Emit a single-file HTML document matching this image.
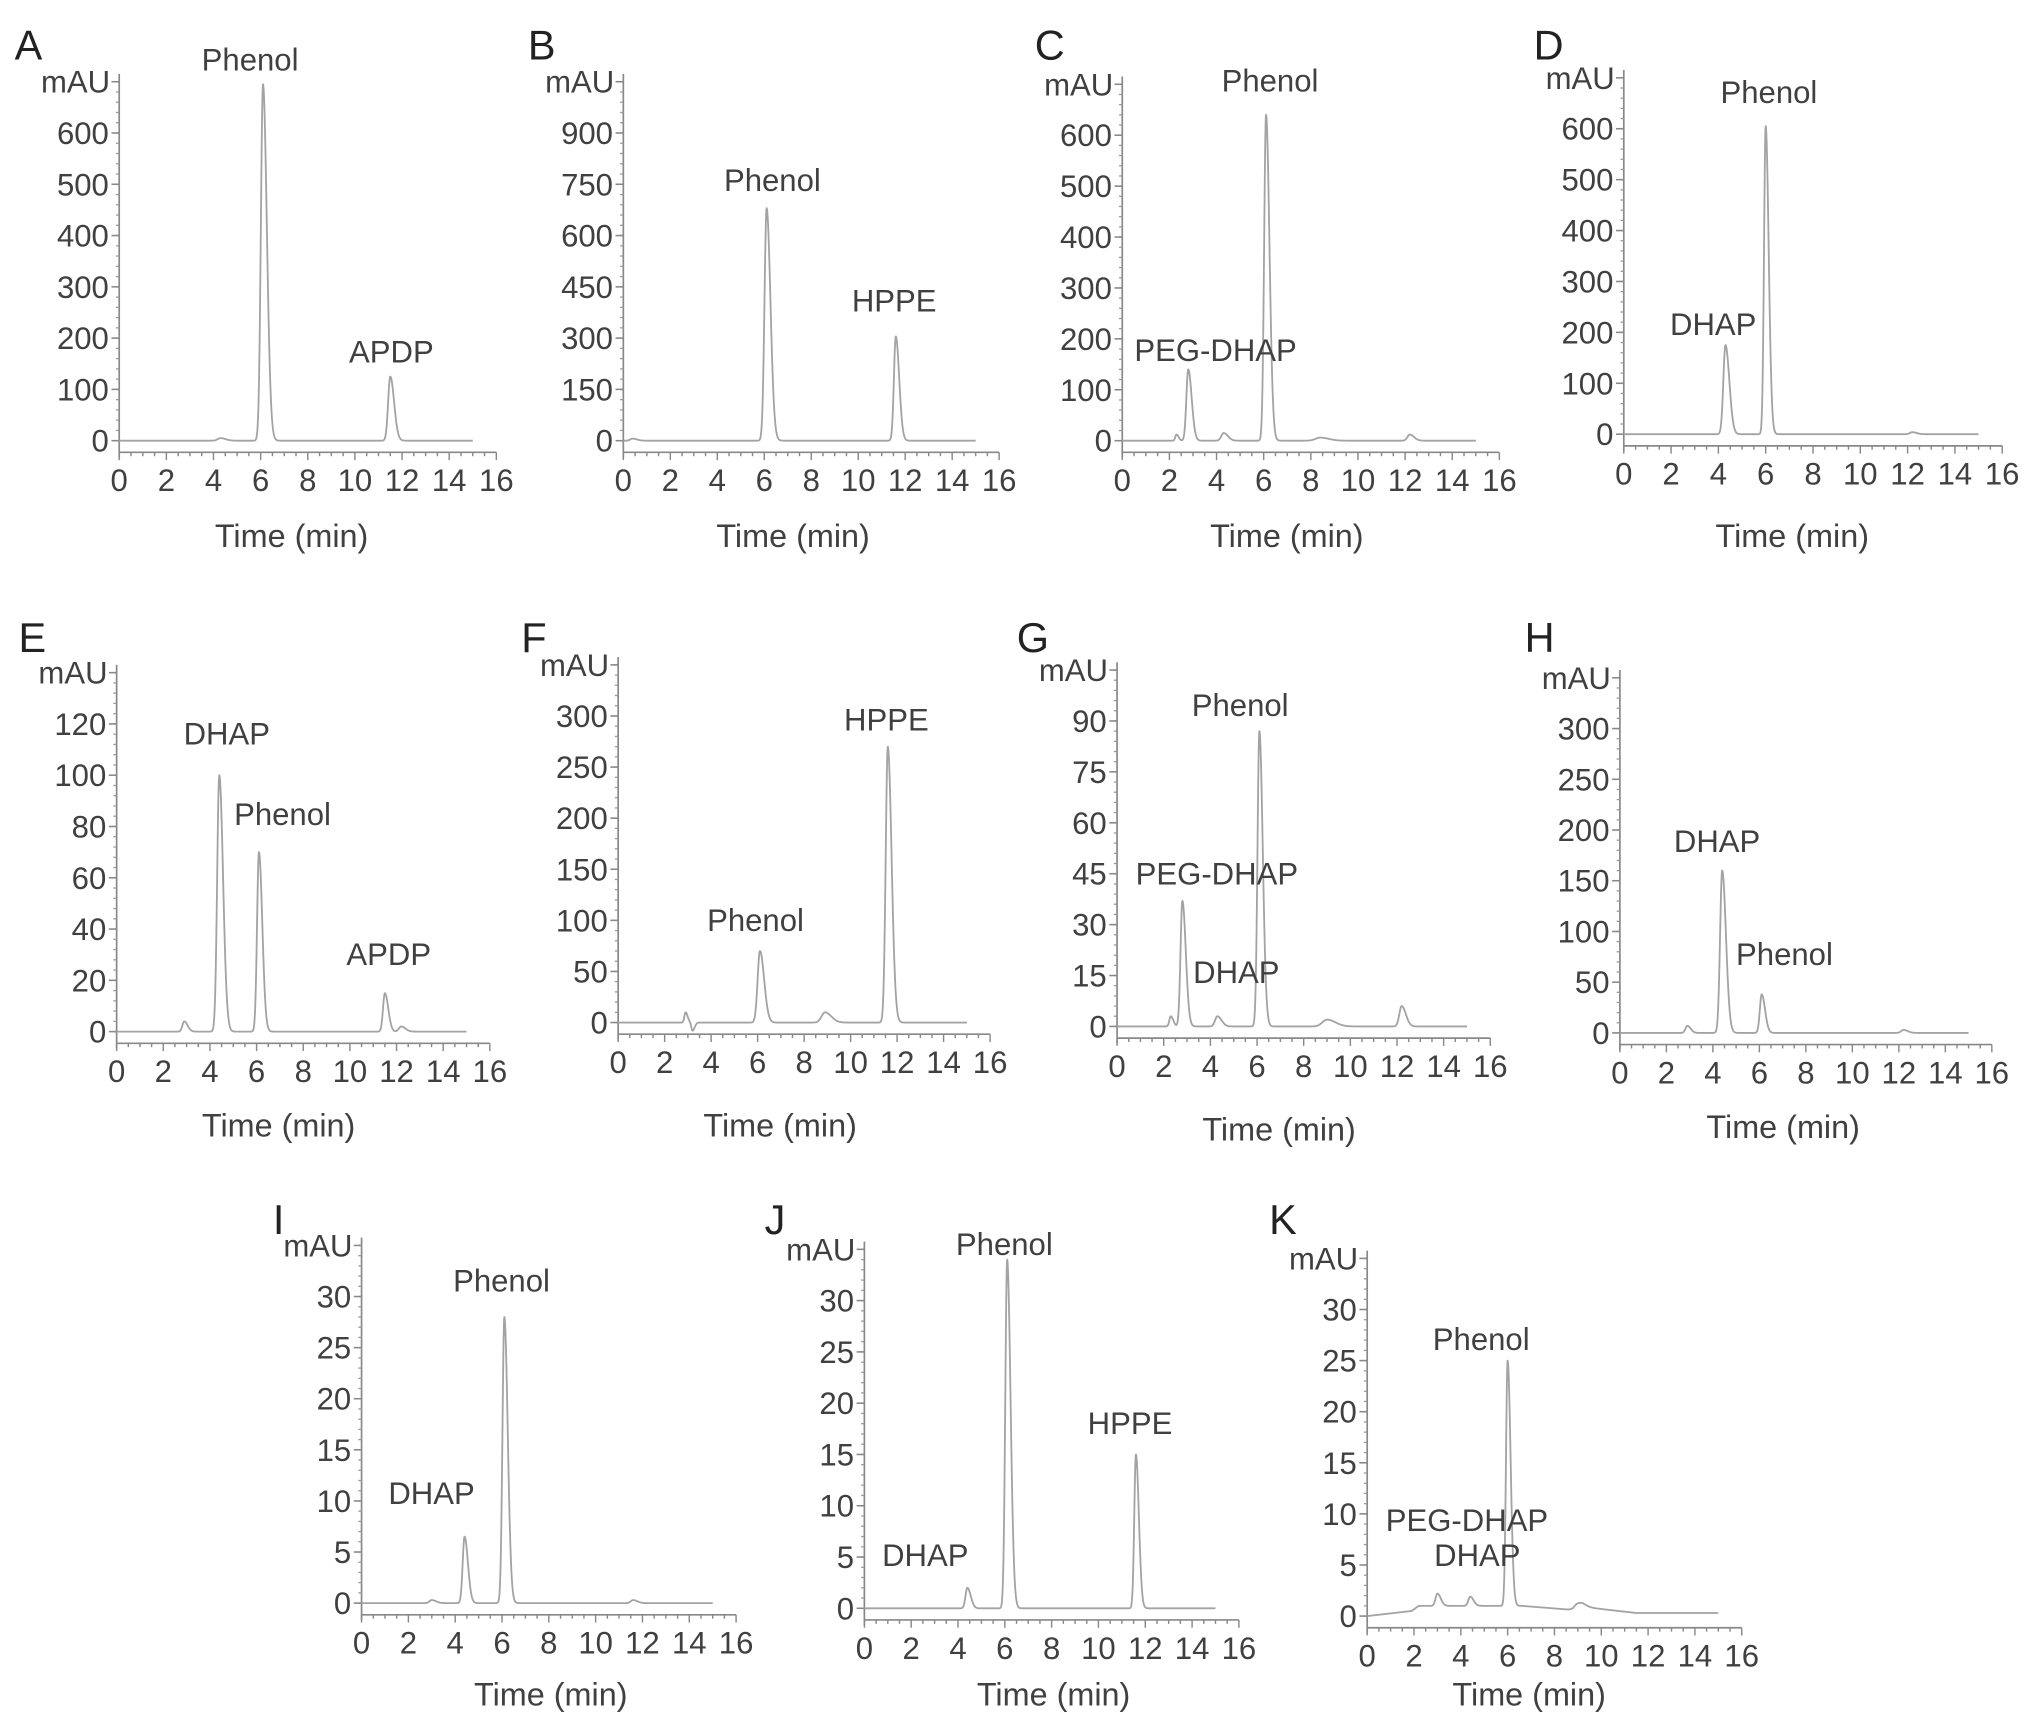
<!DOCTYPE html>
<html><head><meta charset="utf-8"><style>
html,body{margin:0;padding:0;background:#fff;}
svg{display:block;}
text{font-family:"Liberation Sans",sans-serif;fill:#404040;}
</style></head><body>
<svg id="fig" width="2032" height="1725" viewBox="0 0 1568 1331" xmlns="http://www.w3.org/2000/svg"></svg>
<script>
// ---- data: peaks [time(min), height(mAU), width(min)] per panel ----
const peaksA = [[4.3,5,0.12],[6.1,695,0.09],[11.5,125,0.09]];
const peaksB = [[0.4,6,0.1],[6.1,680,0.09],[11.6,305,0.08]];
const peaksC = [[2.3,12,0.05],[2.8,140,0.08],[4.3,15,0.1],[6.1,640,0.08],[8.4,6,0.2],[12.2,12,0.1]];
const peaksD = [[4.3,175,0.09],[6.0,605,0.07],[12.2,4,0.1]];
const peaksE = [[2.9,4,0.08],[4.4,100,0.09],[6.1,70,0.08],[11.5,15,0.08],[12.2,2,0.1]];
const peaksF = [[2.9,10,0.05],[3.2,-8,0.05],[6.1,70,0.1],[8.9,10,0.15],[11.6,270,0.09]];
const peaksG = [[2.3,3,0.06],[2.8,37,0.08],[4.3,3,0.1],[6.1,87,0.08],[9.0,2,0.2],[12.2,6,0.1]];
const peaksH = [[2.9,7,0.08],[4.4,160,0.09],[6.1,38,0.08],[12.2,3,0.1]];
const peaksI = [[3.0,0.3,0.1],[4.4,6.5,0.08],[6.1,28,0.08],[11.6,0.3,0.1]];
const peaksJ = [[4.4,2,0.08],[6.1,34,0.08],[11.6,15,0.07]];
const peaksK = [[3.0,1.2,0.08],[4.4,0.9,0.08],[6.0,24,0.07],[9.0,0.5,0.15]];
// raised baseline for K: [time, level]
const baseK = [[0,0],[1.9,0.5],[2.2,1],[5.6,1],[6.6,1],[8.8,0.6],[9.2,0.9],[11.5,0.3],[15,0.3]];
// y tick labels per panel
const ticksA = [0,100,200,300,400,500,600];
const ticksB = [0,150,300,450,600,750,900];
const ticksC = [0,100,200,300,400,500,600];
const ticksD = [0,100,200,300,400,500,600];
const ticksE = [0,20,40,60,80,100,120];
const ticksF = [0,50,100,150,200,250,300];
const ticksG = [0,15,30,45,60,75,90];
const ticksH = [0,50,100,150,200,250,300];
const ticksI = [0,5,10,15,20,25,30];
const ticksJ = [0,5,10,15,20,25,30];
const ticksK = [0,5,10,15,20,25,30];
const xTicks = [0,2,4,6,8,10,12,14,16];
// peak annotations [text, x, y]
const labelsA = [["Phenol",193,46],["APDP",302,271]];
const labelsB = [["Phenol",596,139],["HPPE",690,232]];
const labelsC = [["Phenol",980,62],["PEG-DHAP",938,270]];
const labelsD = [["Phenol",1365,71],["DHAP",1322,250]];
const labelsE = [["DHAP",175,566],["Phenol",218,628],["APDP",300,736]];
const labelsF = [["Phenol",583,710],["HPPE",684,555]];
const labelsG = [["Phenol",957,544],["PEG-DHAP",939,674],["DHAP",954,750]];
const labelsH = [["DHAP",1325,649],["Phenol",1377,736]];
const labelsI = [["Phenol",387,988],["DHAP",333,1152]];
const labelsJ = [["Phenol",775,960],["HPPE",872,1098],["DHAP",714,1200]];
const labelsK = [["Phenol",1143,1033],["PEG-DHAP",1132,1173],["DHAP",1140,1200]];

const panels = [
 {id:"A",ax:92,y0:340,top:700,ytop:63,x16:383,peaks:peaksA,ticks:ticksA,labels:labelsA,L:[22,35],T:[225,413]},
 {id:"B",ax:481,y0:340,top:1050,ytop:63,x16:771,peaks:peaksB,ticks:ticksB,labels:labelsB,L:[418,35],T:[612,413]},
 {id:"C",ax:866,y0:340,top:700,ytop:65,x16:1157,peaks:peaksC,ticks:ticksC,labels:labelsC,L:[810,35],T:[993,413]},
 {id:"D",ax:1253,y0:335,top:700,ytop:60,x16:1545,peaks:peaksD,ticks:ticksD,labels:labelsD,L:[1195,35],T:[1383,413]},
 {id:"E",ax:90,y0:796,top:140,ytop:519,x16:378,peaks:peaksE,ticks:ticksE,labels:labelsE,L:[25,492],T:[215,868]},
 {id:"F",ax:477,y0:789,top:350,ytop:513,x16:764,peaks:peaksF,ticks:ticksF,labels:labelsF,L:[412,492],T:[602,868]},
 {id:"G",ax:862,y0:792,top:105,ytop:517,x16:1150,peaks:peaksG,ticks:ticksG,labels:labelsG,L:[797,492],T:[987,871]},
 {id:"H",ax:1250,y0:797,top:350,ytop:523,x16:1537,peaks:peaksH,ticks:ticksH,labels:labelsH,L:[1188,492],T:[1376,869]},
 {id:"I",ax:279,y0:1237,top:35,ytop:961,x16:568,peaks:peaksI,ticks:ticksI,labels:labelsI,L:[215,941],T:[425,1307]},
 {id:"J",ax:667,y0:1241,top:35,ytop:964,x16:956,peaks:peaksJ,ticks:ticksJ,labels:labelsJ,L:[598,941],T:[813,1307]},
 {id:"K",ax:1055,y0:1247,top:35,ytop:971,x16:1344,peaks:peaksK,ticks:ticksK,labels:labelsK,L:[990,941],T:[1180,1307],base:baseK}
];

const NS="http://www.w3.org/2000/svg";
const svg=document.getElementById('fig');
function mk(tag,attrs,parent){const e=document.createElementNS(NS,tag);for(const k in attrs)e.setAttribute(k,attrs[k]);parent.appendChild(e);return e;}
function baseAt(base,t){if(!base)return 0;for(let i=1;i<base.length;i++){if(t<=base[i][0]){const a=base[i-1],b=base[i];return a[1]+(b[1]-a[1])*(t-a[0])/(b[0]-a[0]);}}return base[base.length-1][1];}

panels.forEach(p=>{
  const g=mk('g',{},svg);
  
  
  const xs=t=>p.ax+(p.x16-p.ax)*t/16;
  const ys=v=>p.y0-(p.y0-p.ytop)*v/p.top;
  const axY=p.y0+9;
  const L=mk('text',{x:p.L[0],y:p.L[1]+11,'font-size':32,'text-anchor':'middle',style:'fill:#222'},g);
  L.textContent=p.id;
  
  
  const ya=mk('line',{x1:p.ax,y1:p.ytop-6,x2:p.ax,y2:axY+4,stroke:'#888','stroke-width':1.3},g);
  
  
  const step=p.ticks[1]-p.ticks[0];
  for(let v=0;v<=p.top+1e-9;v+=step/5){
    mk('line',{x1:p.ax-2.5,y1:ys(v),x2:p.ax,y2:ys(v),stroke:'#999','stroke-width':1},g);
  }
  p.ticks.forEach(v=>{
    mk('line',{x1:p.ax-6,y1:ys(v),x2:p.ax,y2:ys(v),stroke:'#888','stroke-width':1.2},g);
    const t=mk('text',{x:p.ax-8,y:ys(v)+8.5,'font-size':24,'text-anchor':'end'},g);
    t.textContent=v;
    
    
  });
  mk('line',{x1:p.ax-6,y1:p.ytop,x2:p.ax,y2:p.ytop,stroke:'#888','stroke-width':1.2},g);
  const mau=mk('text',{x:p.ax-7,y:p.ytop+8.5,'font-size':24,'text-anchor':'end'},g);
  mau.textContent='mAU';
  
  
  const xa=mk('line',{x1:p.ax,y1:axY,x2:p.x16,y2:axY,stroke:'#888','stroke-width':1.3},g);
  
  
  for(let t=0;t<=16;t+=0.5){
    const major=(t%2===0);
    mk('line',{x1:xs(t),y1:axY,x2:xs(t),y2:axY+(major?6:3),stroke:'#888','stroke-width':1.1},g);
  }
  xTicks.forEach(t=>{
    const e=mk('text',{x:xs(t),y:axY+30,'font-size':24,'text-anchor':'middle'},g);
    e.textContent=t;
    
    
  });
  const tt=mk('text',{x:p.T[0],y:p.T[1]+9,'font-size':25,'text-anchor':'middle'},g);
  tt.textContent='Time (min)';
  
  
  let d='';
  for(let t=0;t<=15.0001;t+=0.01){
    let v=baseAt(p.base,t);
    p.peaks.forEach(pk=>{
      const dt=t-pk[0];const s=dt<0?pk[2]:pk[2]*1.8;
      v+=pk[1]*Math.exp(-dt*dt/(2*s*s));
    });
    d+=(d?'L':'M')+xs(t).toFixed(2)+','+ys(v).toFixed(2);
  }
  const tr=mk('path',{d:d,fill:'none',stroke:'#a3a3a3','stroke-width':1.4,'stroke-linejoin':'round'},g);
  
  
  p.labels.forEach(l=>{
    const e=mk('text',{x:l[1],y:l[2]+8.5,'font-size':24,'text-anchor':'middle'},g);
    e.textContent=l[0];
    
    
  });
});
</script>
</body></html>
